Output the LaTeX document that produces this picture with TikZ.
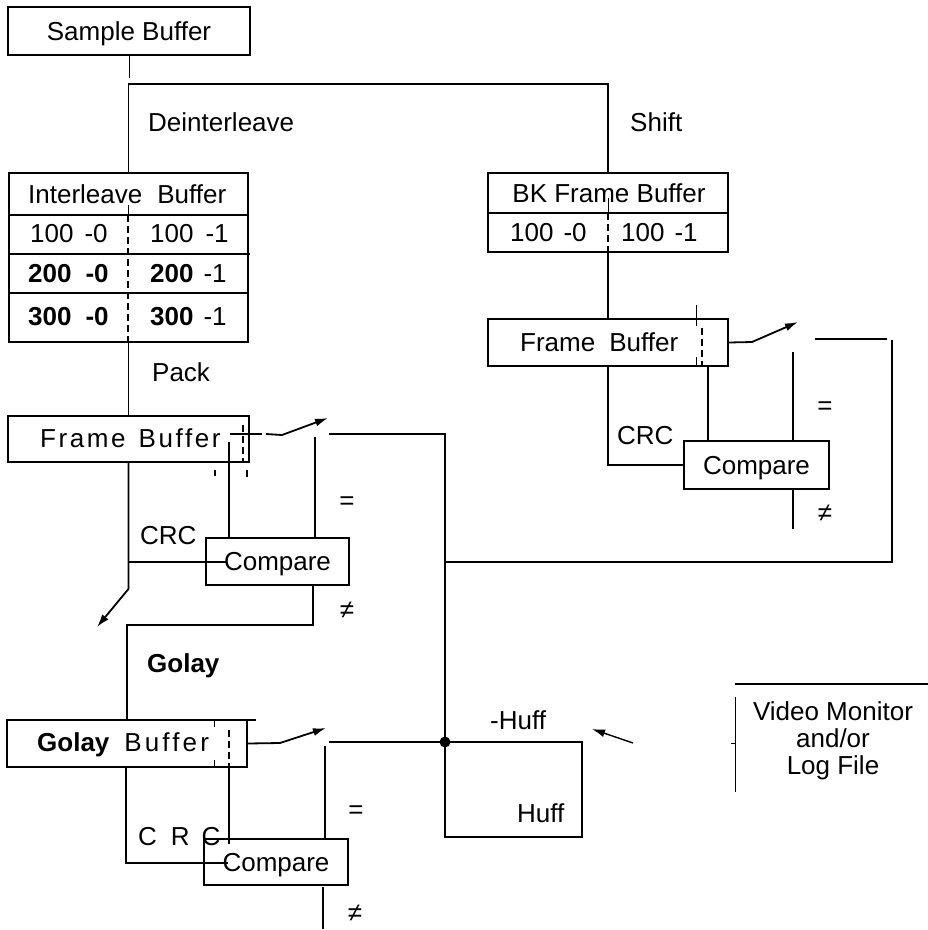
\documentclass[tikz,border=0pt]{standalone}
\usepackage{fontspec}
\setmainfont{Liberation Sans}
\newfontfamily\wideA[LetterSpace=10]{Liberation Sans}
\newfontfamily\wideB[LetterSpace=12]{Liberation Sans}
\usetikzlibrary{arrows.meta}
\tikzset{
  ln/.style={line width=1.8pt},
  thinln/.style={line width=0.9pt},
  dsh/.style={line width=1.8pt, dash pattern=on 7pt off 4pt},
  box/.style={draw, line width=1.8pt, inner sep=0pt, text height=18pt, text depth=0pt},
  lbl/.style={inner sep=0pt, text height=18pt, text depth=0pt},
  sym/.style={inner sep=0pt},
  arr/.style={line width=1.8pt, -{Latex[length=13pt,width=8pt]}},
}
\begin{document}
\begin{tikzpicture}[x=1pt,y=-1pt,font=\fontsize{26}{27}\selectfont]
\useasboundingbox (0,0) rectangle (928,930);

% ---------- boxes ----------
\node[box, minimum width=242pt, minimum height=48pt] (sb) at (129,31) {Sample Buffer};
\node[box, minimum width=239pt, minimum height=169pt] (ib) at (128.5,257.5) {};
\node[box, minimum width=240pt, minimum height=79pt] (bk) at (608,212.5) {};
\node[box, minimum width=240pt, minimum height=47pt] (rfb) at (608,342.5) {};
\node[box, minimum width=241pt, minimum height=46pt] (lfb) at (128.5,439) {};
\node[box, minimum width=240pt, minimum height=47pt] (gb) at (127,743.5) {};
\node[box, minimum width=143pt, minimum height=47pt] (lcmp) at (277.5,561.5) {Compare};
\node[box, minimum width=145pt, minimum height=48pt] (rcmp) at (756.5,465) {Compare};
\node[box, minimum width=144pt, minimum height=46pt] (gcmp) at (276,862) {Compare};

% ---------- interleave buffer contents ----------
\draw[ln] (9,215) -- (248,215) (9,254) -- (250,254) (9,293) -- (248,293);
\draw[thinln] (128,205) -- (128,215);
\draw[dsh] (128,215) -- (128,342);
\node[lbl, anchor=west] (ibh) at (28,194) {Interleave\hspace{15pt}Buffer};
\node[lbl, anchor=west] (ib1l) at (30,233) {100\hspace{11pt}-0};
\node[lbl, anchor=west] (ib1r) at (150,233) {100\hspace{12pt}-1};
\node[lbl, anchor=west] (ib2l) at (28,273) {\textbf{200\hspace{14pt}-0}};
\node[lbl, anchor=west] (ib2r) at (150,273) {\textbf{200}\hspace{10pt}-1};
\node[lbl, anchor=west] (ib3l) at (28,316) {\textbf{300\hspace{14pt}-0}};
\node[lbl, anchor=west] (ib3r) at (150,316) {\textbf{300}\hspace{10pt}-1};

% ---------- BK frame buffer contents ----------
\draw[ln] (488,213) -- (728,213);
\node[lbl] (bkh) at (609,193) {BK Frame Buffer};
\node[lbl, anchor=west] (bkl) at (510,232) {100\hspace{10pt}-0};
\node[lbl, anchor=west] (bkr) at (621,232) {100\hspace{10pt}-1};
\draw[thinln] (608,198) -- (608,213);
\draw[dsh] (608,213) -- (608,252);

% ---------- labels ----------
\node[lbl, anchor=west] (tdeint) at (148,122) {Deinterleave};
\node[lbl, anchor=west] (tshift) at (630,122) {Shift};
\node[lbl, anchor=west] (tpack) at (152,372) {Pack};
\node[lbl, anchor=west] (trfb) at (520,342) {Frame\hspace{14pt}Buffer};
\node[lbl, anchor=west] (tlfb) at (40,438) {\wideA Frame\hspace{13pt}Buffer};
\node[lbl, anchor=west] (tgb) at (37,742) {\textbf{Golay}\hspace{15pt}{\wideB Buffer}};
\node[lbl, anchor=west] (tcrcl) at (140,535) {CRC};
\node[lbl, anchor=west] (tcrcr) at (617,435) {CRC};
\node[lbl, anchor=west] (tgolay) at (147,663) {\textbf{Golay}};
\node[lbl, anchor=west] (tcrcg) at (138,836) {C\hspace{14pt}R\hspace{12pt}C};
\node[sym] (eq1) at (825,408) {=};
\node[sym] (ne1) at (825,513) {≠};
\node[sym] (eq2) at (347,503) {=};
\node[sym] (ne2) at (347,610) {≠};
\node[sym] (eq3) at (356,812) {=};
\node[sym] (ne3) at (355,913) {≠};
\node[lbl, anchor=west] (tnhuff) at (490,720) {-Huff};
\node[lbl, anchor=west] (thuff) at (517,813) {Huff};
\node[align=center, inner sep=0pt] (vm) at (833,741) {Video Monitor\\and/or\\Log File};

% ---------- coordinates ----------
\coordinate (rswT) at (798,322);
\coordinate (lswT) at (328,418);
\coordinate (gswT) at (326,728);
\coordinate (lArr) at (97,627);
\coordinate (hA) at (633,743);
\coordinate (hT) at (592,729);
\coordinate (junc) at (445,742);

% ---------- top connectors ----------
\draw[thinln] (sb.south) -- ++(0,22);
\draw[ln] (ib.north) -- ++(0,-88) -| (bk.north);
\draw[ln] (ib.south) -- (lfb.north);
\draw[ln] (bk.south) -- (rfb.north);

% ---------- right frame buffer ----------
\draw[dsh] (702,328) -- (702,366);
\draw[thinln] (696,305) -- (696,326) (696,357) -- (696,366);
\draw[arr] (rfb.east) -- (752,342) -- (rswT);
\draw[line width=2.8pt] (815,339) -- (887,339);
\draw[ln] (892,340) -- (892,562) -- (445,562);
\draw[ln] (rfb.south) |- (rcmp.west);
\draw[ln] (708,366) -- (708,441);
\draw[ln] (793,352) -- (793,441);
\draw[ln] (793,489) -- (793,529);

% ---------- left frame buffer ----------
\draw[dsh] (243,425) -- (243,462);
\draw[ln] (230,434) -- (262,434);
\draw[arr] (266,434) -- (282,435) -- (lswT);
\draw[ln] (229,442) -- (229,538);
\draw[ln] (215,470) -- (215,476) (247,470) -- (247,477);
\draw[ln] (329,434) -- (445,434) -- (445,838);
\draw[ln] (315,437) -- (315,538);
\draw[arr] (lfb.south) -- ++(0,126) -- (lArr);
\draw[ln] (128.5,562) -- (227,562);
\draw[ln] (313,585) -- (313,625) -| (gb.north);

% ---------- golay buffer ----------
\draw[thinln] (214,720) -- (214,727) (214,760) -- (214,767);
\draw[dsh] (229,730) -- (229,767);
\draw[ln] (247,720) -- (256,720);
\draw[arr] (gb.east) -- (280,743) -- (gswT);
\draw[ln] (329,742) -- (582,742) -- (582,837) -- (445,837);
\fill (junc) circle (5.5pt);
\draw[ln] (325,746) -- (325,839);
\draw[ln] (126,767) -- (126,863) -- (228,863);
\draw[ln] (229,767) -- (229,844);
\draw[ln] (323,887) -- (323,929);

% ---------- huff / monitor ----------
\draw[arr, line width=1.4pt] (hA) -- (hT);
\draw[ln] (735,684) -- (928,684);
\draw[thinln] (735,697) -- (735,792) (731,743) -- (735,743);
\end{tikzpicture}
\end{document}
